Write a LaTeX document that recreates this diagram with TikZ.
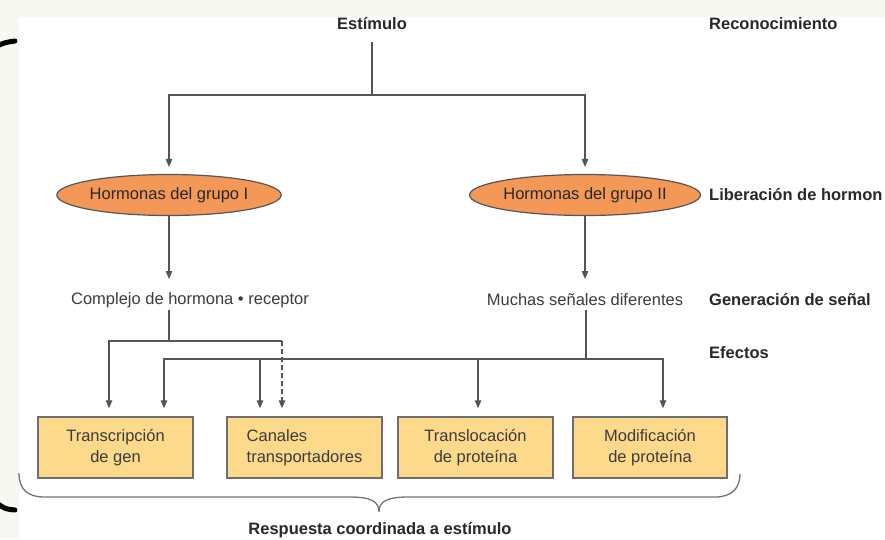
\documentclass[tikz,border=0pt]{standalone}
\usepackage{fontspec}
\setmainfont{Liberation Sans}
\usetikzlibrary{arrows.meta,shapes.geometric,calc}
\definecolor{bgoff}{RGB}{248,248,243}
\definecolor{lncol}{RGB}{85,85,85}
\definecolor{txtcol}{RGB}{60,60,60}
\definecolor{labcol}{RGB}{40,40,40}
\definecolor{hormfill}{RGB}{244,152,88}
\definecolor{boxfill}{RGB}{253,217,140}
\definecolor{boxdraw}{RGB}{110,110,110}
\tikzset{
  ln/.style={draw=lncol, line width=1.3pt},
  arr/.style={ln, -{Triangle[length=8pt,width=6.5pt]}, shorten >=8pt},
  txt/.style={inner sep=0pt, text=txtcol, font=\fontsize{16.5}{21}\selectfont},
  lab/.style={inner sep=0pt, text=labcol, font=\bfseries\fontsize{16.5}{21}\selectfont},
  horm/.style={ellipse, draw=lncol, line width=1.2pt, fill=hormfill, minimum width=196pt, minimum height=41pt, inner sep=0pt, text=labcol, font=\fontsize{16.5}{21}\selectfont},
  effbox/.style={rectangle, draw=boxdraw, line width=1.4pt, fill=boxfill, minimum width=155pt, minimum height=61pt, inner sep=0pt, text=txtcol, align=center, font=\fontsize{16.5}{21}\selectfont},
  blackmark/.style={line width=5pt, line cap=round, black}
}
\begin{document}
\begin{tikzpicture}[x=1pt,y=-1pt]
\useasboundingbox (0,0) rectangle (885,539);
\fill[bgoff] (0,0) rectangle (885,539);
\fill[white] (19,17) rectangle (885,539);
\draw[blackmark] (-3,46) .. controls (5,42.5) .. (15,41);
\draw[blackmark] (-3,503) .. controls (5,509) .. (15,510);

% nodes
\node[lab] (est) at (372,24) {Estímulo};
\node[lab, anchor=west] (rec) at (709,24) {Reconocimiento};
\node[horm] (h1) at (169,195) {Hormonas del grupo I};
\node[horm] (h2) at (585,195) {Hormonas del grupo II};
\node[lab, anchor=west] (lib) at (709,195) {Liberación de hormon};
\node[txt] (c1) at (190,300) {Complejo de hormona • receptor};
\node[txt] (c2) at (585,300) {Muchas señales diferentes};
\node[lab, anchor=west] (gen) at (709,300) {Generación de señal};
\node[lab, anchor=west] (efe) at (709,353) {Efectos};
\node[effbox] (b1) at (115.5,447.5) {Transcripción\\de gen};
\node[effbox, align=left] (b2) at (304.5,447.5) {Canales\\transportadores};
\node[effbox] (b3) at (475.5,447.5) {Translocación\\de proteína};
\node[effbox, minimum width=154pt] (b4) at (650,447.5) {Modificación\\de proteína};
\node[lab] (resp) at (380,530) {Respuesta coordinada a estímulo};

% coordinates
\coordinate (top) at (372,95);
\coordinate (L1) at (169,341);
\coordinate (p1) at (109,341);
\coordinate (p2) at (282,341);
\coordinate (L2) at (586,359);
\coordinate (q1) at (164,359);
\coordinate (q2) at (260,359);
\coordinate (q3) at (478,359);
\coordinate (q4) at (663,359);

% connectors
\draw[ln] ($(est.center)+(0,18)$) -- (top);
\draw[arr, shorten >=7pt] (top) -| (h1.north);
\draw[arr, shorten >=7pt] (top) -| (h2.north);
\draw[arr] (h1.south) -- ($(h1.south |- c1.center)+(0,-13)$);
\draw[arr] (h2.south) -- ($(h2.south |- c2.center)+(0,-13)$);
\draw[ln] ($(h1.south |- c1.center)+(0,10)$) -- (L1);
\draw[ln] ($(L2 |- c2.center)+(0,10)$) -- (L2);
\draw[arr] (L1) -- (p1) -- (p1 |- b1.north);
\draw[ln] (L1) -- (p2);
\draw[arr, dash pattern=on 5pt off 3pt] (p2) -- (p2 |- b2.north);
\draw[arr] (L2) -- (q1) -- (q1 |- b1.north);
\draw[arr] (q2) -- (q2 |- b2.north);
\draw[arr] (q3) -- (q3 |- b3.north);
\draw[arr] (L2) -- (q4) -- (q4 |- b4.north);

% brace
\draw[draw=gray!90!black, line width=1.3pt]
  (19,473) .. controls (19,490) and (28,497) .. (45,497) -- (350,497)
  .. controls (372,497) and (379,502) .. (379,512)
  .. controls (379,502) and (386,497) .. (408,497) -- (715,497)
  .. controls (732,497) and (740,488) .. (740,474);
\end{tikzpicture}
\end{document}
